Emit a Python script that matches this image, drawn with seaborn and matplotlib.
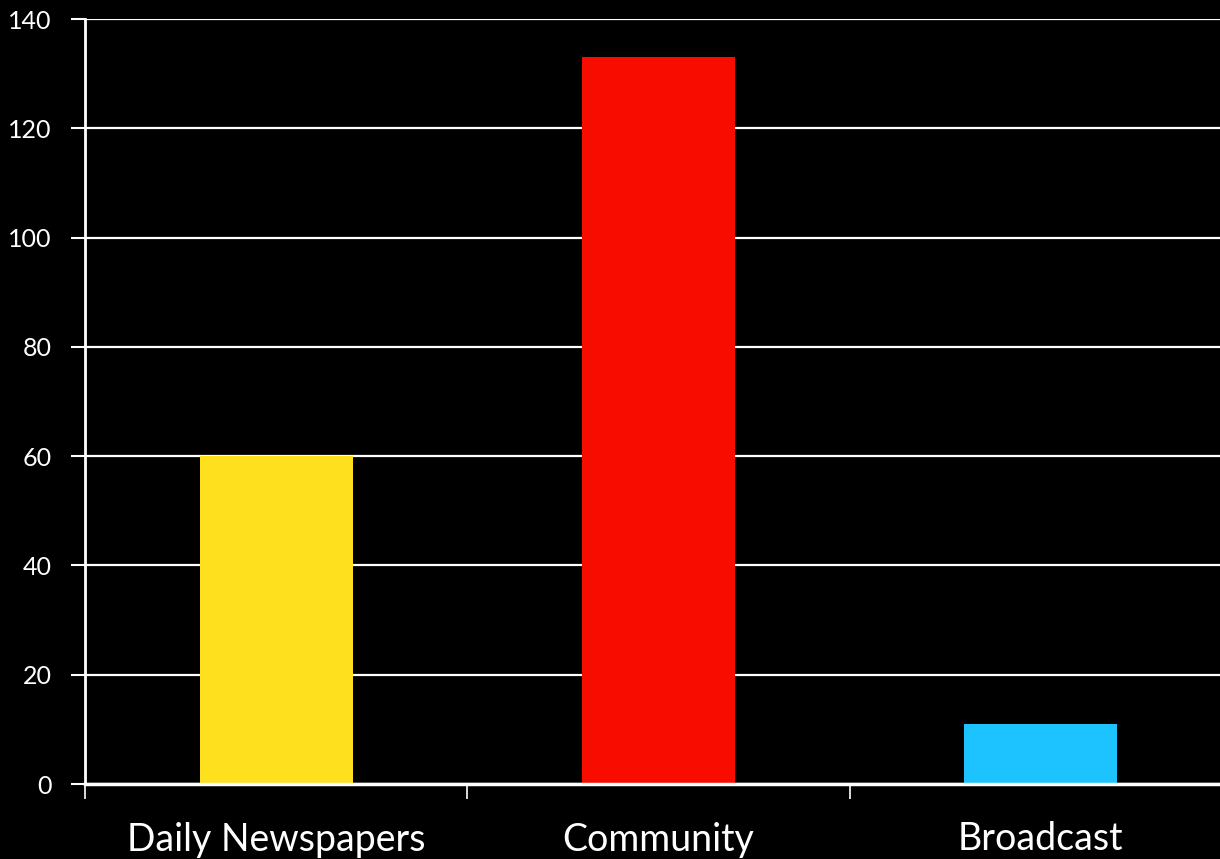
import matplotlib
matplotlib.use("Agg")
import matplotlib.pyplot as plt
import seaborn as sns
import pandas as pd
from matplotlib.ticker import FixedLocator

categories = ["Daily Newspapers", "Community", "Broadcast"]
values = [60, 133, 11]
colors = ["#FFE01F", "#F90C00", "#1CC3FF"]
yticks = [0, 20, 40, 60, 80, 100, 120, 140]

sns.set_style("dark")
plt.rcParams['font.family'] = ['Lato', 'DejaVu Sans']

df = pd.DataFrame({"category": categories, "value": values})

fig = plt.figure(figsize=(12.2, 8.59), dpi=100, facecolor="black")
ax = fig.add_axes([85/1220, 1 - 784/859, (1232 - 85)/1220, (784 - 19)/859])
ax.set_facecolor("black")

sns.barplot(data=df, x="category", y="value", hue="category",
            palette=dict(zip(categories, colors)), width=0.4,
            saturation=1, legend=False, ax=ax, zorder=3, linewidth=0,
            edgecolor="none")

ax.set_xlim(-0.5, 2.5)
ax.set_ylim(0, 140)
ax.set_yticks(yticks)
ax.yaxis.grid(True, color="white", linewidth=1.6, zorder=0)
ax.xaxis.grid(False)
ax.set_axisbelow(True)

for s in ["top", "right"]:
    ax.spines[s].set_visible(False)
ax.spines["left"].set_color("white")
ax.spines["left"].set_linewidth(2)
ax.spines["bottom"].set_color("white")
ax.spines["bottom"].set_linewidth(2.5)
ax.spines["bottom"].set_zorder(4)

ax.tick_params(axis="y", colors="white", length=10, width=1.5, pad=14,
               labelsize=18, left=True)
ax.tick_params(axis="x", which="major", length=0, pad=27, labelsize=27,
               colors="white")
ax.xaxis.set_minor_locator(FixedLocator([-0.5, 0.5, 1.5, 2.5]))
ax.tick_params(axis="x", which="minor", length=11, width=1.2,
               colors="white", bottom=True, direction="out")
ax.set_xlabel("")
ax.set_ylabel("")

fig.savefig("out.png", dpi=100, facecolor="black")
